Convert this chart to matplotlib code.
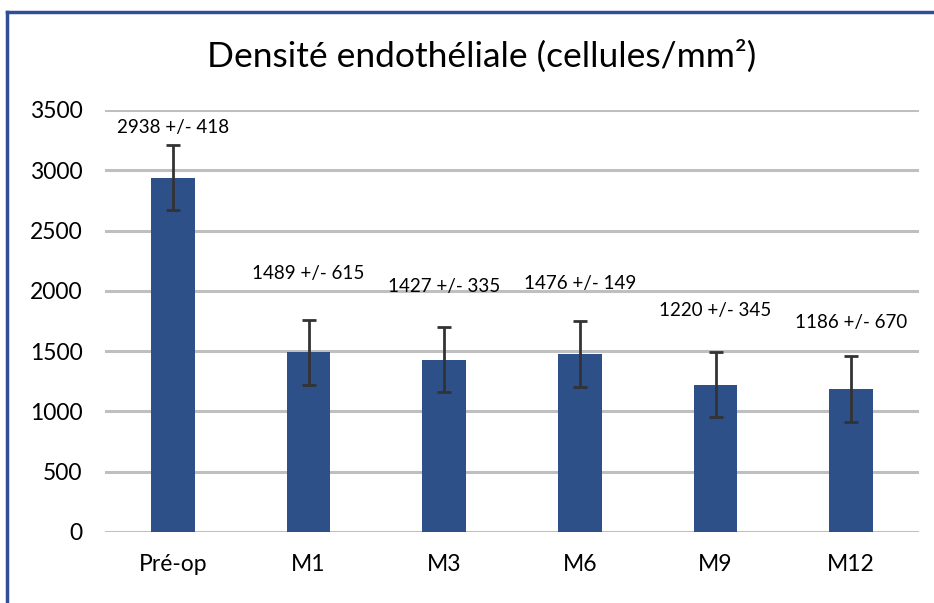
import matplotlib.pyplot as plt
from matplotlib.lines import Line2D

# data
categories = ['Pré-op', 'M1', 'M3', 'M6', 'M9', 'M12']
densite = [2938, 1489, 1427, 1476, 1220, 1186]
ecart_type = [418, 615, 335, 149, 345, 670]
barre_erreur = [270, 270, 270, 270, 270, 270]

# label heights (data units), placed by hand on the original
label_y = [3358, 2148, 2040, 2057, 1833, 1741]

plt.rcParams['font.family'] = ['Lato', 'DejaVu Sans']

fig = plt.figure(figsize=(9.34, 6.03), dpi=100)
ax = fig.add_axes([105 / 934, 1 - 532 / 603, 814 / 934, 422 / 603])

x = range(len(categories))
ax.bar(x, densite, width=0.32, color='#2E5088', zorder=3)
ax.errorbar(x, densite, yerr=barre_erreur, fmt='none', ecolor='#333333',
            elinewidth=2, capsize=5, capthick=2, zorder=4)

for i in x:
    ax.text(i, label_y[i], f'{densite[i]} +/- {ecart_type[i]}',
            ha='center', va='center', fontsize=13.5)

ax.set_xlim(-0.5, len(categories) - 0.5)
ax.set_ylim(0, 3500)
ax.set_yticks(range(0, 3501, 500))
ax.set_xticks(list(x))
ax.set_xticklabels(categories, fontsize=16.5)
ax.tick_params(axis='y', labelsize=16.5, length=0, pad=16)
ax.tick_params(axis='x', length=0, pad=16)
ax.yaxis.grid(True, color='#BFBFBF', linewidth=2.2, zorder=0)
ax.set_axisbelow(True)
for s in ax.spines.values():
    s.set_visible(False)

fig.text(482 / 934, 1 - 56 / 603, 'Densité endothéliale (cellules/mm²)',
         ha='center', va='center', fontsize=25.5)

# blue frame (top and left)
fig.add_artist(Line2D([7 / 934, 1], [1 - 12 / 603, 1 - 12 / 603],
                      color='#2F4F96', linewidth=2.5))
fig.add_artist(Line2D([7 / 934, 7 / 934], [0, 1 - 12 / 603],
                      color='#2F4F96', linewidth=2.5))

plt.savefig('out.png', dpi=100)
